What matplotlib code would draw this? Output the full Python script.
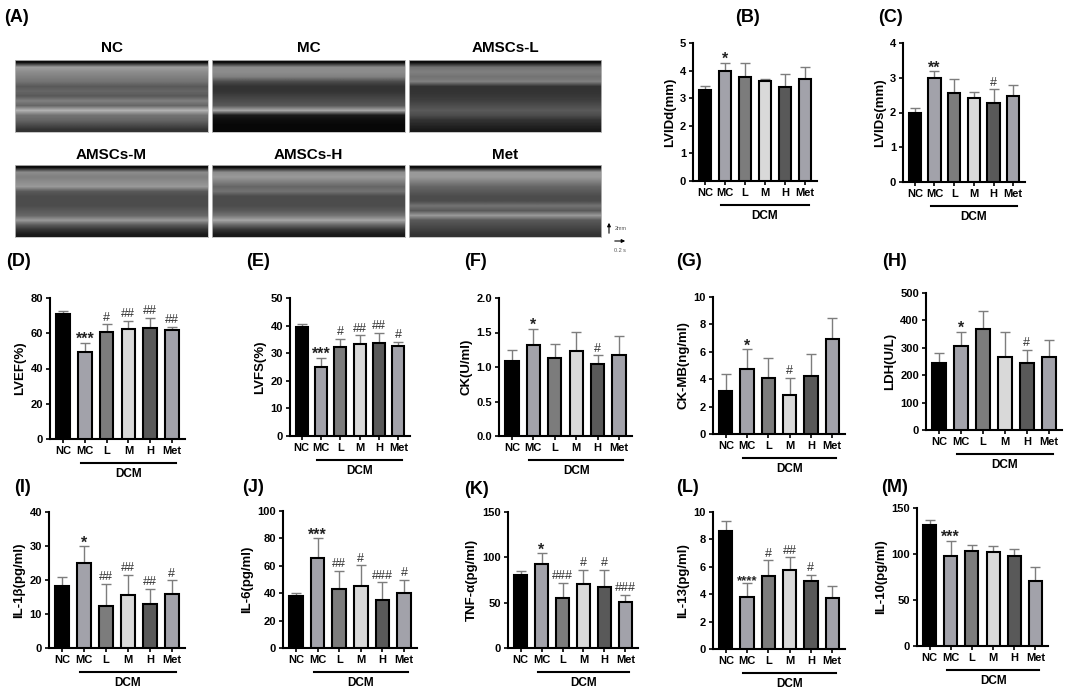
import numpy as np
import matplotlib
matplotlib.use("Agg")
import matplotlib.pyplot as plt
from matplotlib.transforms import blended_transform_factory, ScaledTranslation

plt.rcParams['font.family'] = ['Liberation Sans', 'DejaVu Sans']

groups = ['NC', 'MC', 'L', 'M', 'H', 'Met']
bar_colors = ['#000000', '#a2a2aa', '#7c7c7c', '#d9d9d9', '#595959', '#a2a2aa']

# ---- data (mean, upper SD) ----
lvidd_mean = [3.30, 3.98, 3.78, 3.61, 3.42, 3.68]
lvidd_sd = [0.14, 0.30, 0.50, 0.09, 0.44, 0.46]
lvidd_sig = ['', '*', '', '', '', '']

lvids_mean = [2.00, 2.99, 2.56, 2.43, 2.28, 2.48]
lvids_sd = [0.14, 0.20, 0.41, 0.16, 0.39, 0.32]
lvids_sig = ['', '**', '', '', '#', '']

lvef_mean = [70.8, 49.4, 60.8, 62.6, 63.2, 61.7]
lvef_sd = [1.7, 5.3, 4.3, 4.4, 5.7, 1.9]
lvef_sig = ['', '***', '#', '##', '##', '##']

lvfs_mean = [39.4, 24.9, 32.1, 33.5, 33.7, 32.7]
lvfs_sd = [1.3, 3.4, 3.0, 3.0, 3.7, 1.4]
lvfs_sig = ['', '***', '#', '##', '##', '#']

ck_mean = [1.08, 1.32, 1.13, 1.23, 1.05, 1.18]
ck_sd = [0.16, 0.23, 0.20, 0.28, 0.12, 0.27]
ck_sig = ['', '*', '', '', '#', '']

ckmb_mean = [3.11, 4.77, 4.11, 2.87, 4.21, 6.96]
ckmb_sd = [1.27, 1.41, 1.41, 1.22, 1.63, 1.54]
ckmb_sig = ['', '*', '', '#', '', '']

ldh_mean = [245, 308, 367, 268, 246, 266]
ldh_sd = [37, 50, 68, 89, 47, 61]
ldh_sig = ['', '*', '', '', '#', '']

il1b_mean = [18.3, 24.9, 12.5, 15.6, 13.0, 16.0]
il1b_sd = [2.6, 5.0, 6.3, 5.9, 4.3, 3.9]
il1b_sig = ['', '*', '##', '##', '##', '#']

il6_mean = [38.1, 66.0, 43.2, 45.6, 35.0, 40.5]
il6_sd = [2.4, 14.0, 13.1, 14.8, 13.0, 9.0]
il6_sig = ['', '***', '##', '#', '###', '#']

tnf_mean = [80.0, 92.3, 55.5, 70.6, 67.0, 51.0]
tnf_sd = [4.6, 12.1, 16.5, 15.8, 19.4, 7.8]
tnf_sig = ['', '*', '###', '#', '#', '###']

il13_mean = [8.59, 3.81, 5.34, 5.73, 5.00, 3.74]
il13_sd = [0.73, 1.04, 1.12, 0.97, 0.41, 0.85]
il13_sig = ['', '****', '#', '##', '#', '']

il10_mean = [131, 97.8, 103.3, 102, 97.8, 70.3]
il10_sd = [6, 16.7, 6.7, 7, 7.6, 15.6]
il10_sig = ['', '***', '', '', '', '']

# echo image brightness profiles (top -> bottom)
echo_titles = ['NC', 'MC', 'AMSCs-L', 'AMSCs-M', 'AMSCs-H', 'Met']
echo_profiles = [
    [0.05, 0.62, 0.55, 0.5, 0.45, 0.35, 0.4, 0.35, 0.5, 0.4, 0.7, 0.45, 0.4, 0.3, 0.2],
    [0.05, 0.55, 0.55, 0.5, 0.3, 0.2, 0.2, 0.25, 0.3, 0.35, 0.65, 0.1, 0.05, 0.03, 0.03],
    [0.05, 0.45, 0.5, 0.45, 0.5, 0.2, 0.2, 0.22, 0.25, 0.3, 0.35, 0.3, 0.2, 0.15, 0.1],
    [0.05, 0.55, 0.5, 0.55, 0.6, 0.35, 0.3, 0.3, 0.3, 0.35, 0.4, 0.6, 0.35, 0.2, 0.1],
    [0.05, 0.55, 0.6, 0.5, 0.4, 0.45, 0.3, 0.3, 0.3, 0.35, 0.45, 0.65, 0.4, 0.2, 0.1],
    [0.05, 0.6, 0.6, 0.5, 0.4, 0.35, 0.3, 0.3, 0.45, 0.35, 0.6, 0.35, 0.3, 0.25, 0.2],
]

W, H = 1065, 694
fig = plt.figure(figsize=(W / 100, H / 100), dpi=100)


def px_axes(x0, x1, ybot, ytop):
    return fig.add_axes([x0 / W, 1 - ybot / H, (x1 - x0) / W, (ybot - ytop) / H])


def plabel(x, y, s):
    fig.text(x / W, 1 - y / H, s, fontsize=13, fontweight='bold', va='center', ha='left')


# ---- panel A ----
plabel(4, 18, '(A)')
img_x = [(15, 208), (212, 405), (409, 601)]
img_y = [(60, 132), (165, 237)]
title_y = [48, 155]
for i, (title, prof) in enumerate(zip(echo_titles, echo_profiles)):
    r, c = divmod(i, 3)
    x0, x1 = img_x[c]
    yt, yb = img_y[r]
    iax = px_axes(x0, x1, yb, yt)
    arr = np.array(prof)[:, None] * np.ones((1, 4))
    iax.imshow(arr, cmap='gray', vmin=0, vmax=1, aspect='auto', interpolation='bilinear')
    iax.set_xticks([])
    iax.set_yticks([])
    for s in iax.spines.values():
        s.set_color('#bbbbbb')
        s.set_linewidth(0.6)
    fig.text((x0 + x1) / 2 / W, 1 - title_y[r] / H, title, fontsize=11,
             fontweight='bold', ha='center', va='center')

# scale bars
fig.add_artist(matplotlib.patches.FancyArrowPatch((609 / W, 1 - 236 / H), (609 / W, 1 - 220 / H),
                                                  transform=fig.transFigure, arrowstyle='-|>',
                                                  mutation_scale=5, lw=0.8, color='black'))
fig.text(615 / W, 1 - 229 / H, '2mm', fontsize=4, va='center', ha='left', color='#555555')
fig.add_artist(matplotlib.patches.FancyArrowPatch((612 / W, 1 - 241 / H), (628 / W, 1 - 241 / H),
                                                  transform=fig.transFigure, arrowstyle='-|>',
                                                  mutation_scale=5, lw=0.8, color='black'))
fig.text(620 / W, 1 - 250 / H, '0.2 s', fontsize=4, va='center', ha='center', color='#555555')


def bar_panel(box, lab_pos, lab, means, sds, sigs, ylim, yticks, ylabel, ytfmt='{:g}'):
    ax = px_axes(*box)
    x = np.arange(len(groups))
    ax.bar(x, means, width=0.62, color=bar_colors, edgecolor='black', linewidth=1.5, zorder=3)
    ax.errorbar(x, means, yerr=[np.zeros(len(sds)), sds], fmt='none', ecolor='#7d7d7d',
                elinewidth=1.0, capsize=3.5, capthick=1.0, zorder=2)
    for xi, m, s, t in zip(x, means, sds, sigs):
        if t:
            if '*' in t:
                fs = 9.5 if t == '****' else 11.5
                ax.annotate(t, (xi, m + s), xytext=(0, -3), textcoords='offset points',
                            ha='center', va='bottom', fontsize=fs, fontweight='bold',
                            color='#222222')
            else:
                ax.annotate(t, (xi, m + s), xytext=(0, 0.5), textcoords='offset points',
                            ha='center', va='bottom', fontsize=9, color='#333333')
    ax.set_xlim(-0.6, 5.6)
    ax.set_ylim(*ylim)
    ax.set_yticks(yticks)
    ax.set_yticklabels([ytfmt.format(v) for v in yticks])
    ax.set_xticks(x)
    ax.set_xticklabels(groups)
    for s in ['top', 'right']:
        ax.spines[s].set_visible(False)
    for s in ['left', 'bottom']:
        ax.spines[s].set_linewidth(1.5)
    ax.tick_params(axis='both', direction='out', length=3, width=1.2, labelsize=8, pad=2)
    for t in ax.get_xticklabels() + ax.get_yticklabels():
        t.set_fontweight('bold')
    ax.set_ylabel(ylabel, fontsize=9.5, fontweight='bold', labelpad=3)
    tr = blended_transform_factory(ax.transData, ax.transAxes)
    tl = tr + ScaledTranslation(0, -24 / 100, fig.dpi_scale_trans)
    ax.plot([0.82, 5.18], [0, 0], color='black', lw=1.5, transform=tl, clip_on=False)
    tt = tr + ScaledTranslation(0, -35 / 100, fig.dpi_scale_trans)
    ax.text(3.0, 0, 'DCM', transform=tt, ha='center', va='center', fontsize=8.5, fontweight='bold')
    plabel(lab_pos[0], lab_pos[1], lab)
    return ax


bar_panel((693, 817, 181, 43), (735, 18), '(B)', lvidd_mean, lvidd_sd, lvidd_sig,
          (0, 5), [0, 1, 2, 3, 4, 5], 'LVIDd(mm)')
bar_panel((903, 1025, 182, 43), (878, 17), '(C)', lvids_mean, lvids_sd, lvids_sig,
          (0, 4), [0, 1, 2, 3, 4], 'LVIDs(mm)')

bar_panel((50, 185, 439, 298), (6, 262), '(D)', lvef_mean, lvef_sd, lvef_sig,
          (0, 80), [0, 20, 40, 60, 80], 'LVEF(%)')
bar_panel((290, 410, 436, 298), (246, 262), '(E)', lvfs_mean, lvfs_sd, lvfs_sig,
          (0, 50), [0, 10, 20, 30, 40, 50], 'LVFS(%)')
bar_panel((499, 632, 436, 298), (464, 262), '(F)', ck_mean, ck_sd, ck_sig,
          (0, 2), [0, 0.5, 1.0, 1.5, 2.0], 'CK(U/ml)', '{:.1f}')
bar_panel((713, 845, 434, 297), (676, 262), '(G)', ckmb_mean, ckmb_sd, ckmb_sig,
          (0, 10), [0, 2, 4, 6, 8, 10], 'CK-MB(ng/ml)')
bar_panel((926, 1062, 430, 293), (882, 262), '(H)', ldh_mean, ldh_sd, ldh_sig,
          (0, 500), [0, 100, 200, 300, 400, 500], 'LDH(U/L)')

bar_panel((49, 185, 648, 512), (14, 488), '(I)', il1b_mean, il1b_sd, il1b_sig,
          (0, 40), [0, 10, 20, 30, 40], 'IL-1β(pg/ml)')
bar_panel((283, 417, 648, 511), (242, 488), '(J)', il6_mean, il6_sd, il6_sig,
          (0, 100), [0, 20, 40, 60, 80, 100], 'IL-6(pg/ml)')
bar_panel((508, 638, 648, 512), (464, 490), '(K)', tnf_mean, tnf_sd, tnf_sig,
          (0, 150), [0, 50, 100, 150], 'TNF-α(pg/ml)')
bar_panel((713, 845, 649, 512), (676, 487), '(L)', il13_mean, il13_sd, il13_sig,
          (0, 10), [0, 2, 4, 6, 8, 10], 'IL-13(pg/ml)')
bar_panel((917, 1048, 646, 508), (881, 487), '(M)', il10_mean, il10_sd, il10_sig,
          (0, 150), [0, 50, 100, 150], 'IL-10(pg/ml)')

fig.savefig('out.png', dpi=100)
